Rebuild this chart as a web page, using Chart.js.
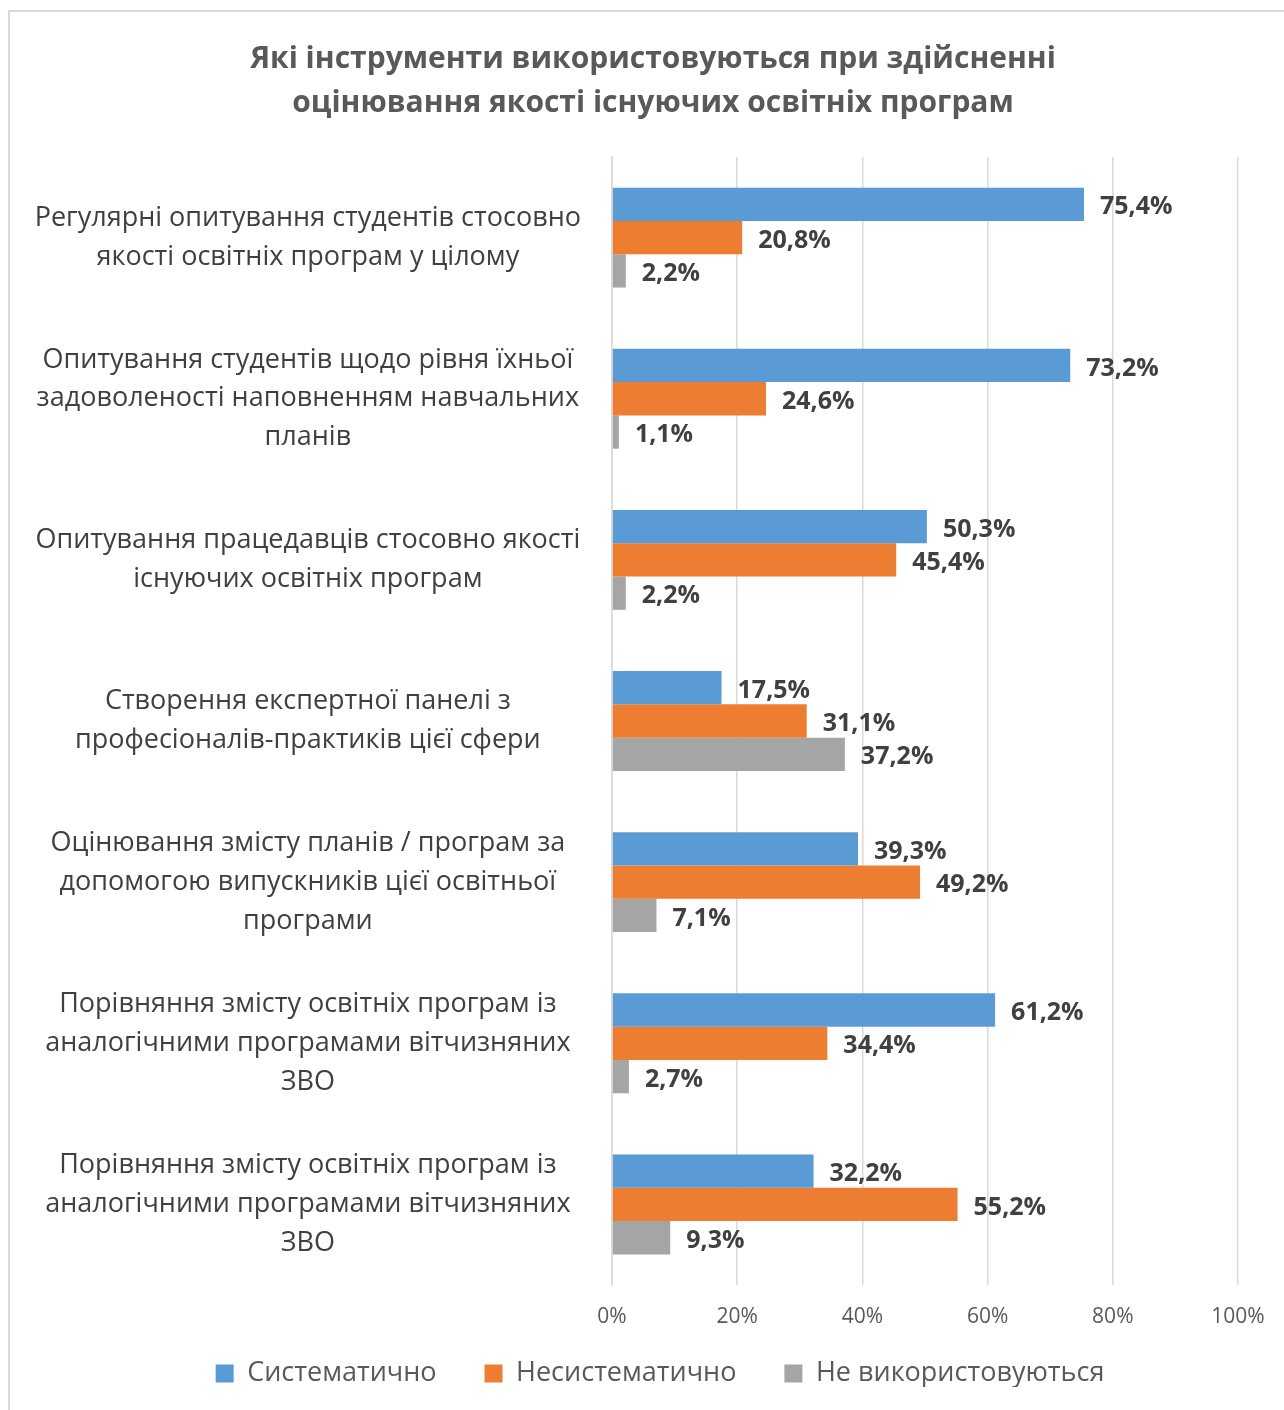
<!DOCTYPE html>
<html lang="uk">
<head>
<meta charset="utf-8">
<title>Інструменти оцінювання якості освітніх програм</title>
<script src="https://cdn.jsdelivr.net/npm/chart.js@4.4.1/dist/chart.umd.min.js"></script>
<style>
  html, body { margin: 0; padding: 0; background: #fff; overflow: hidden; }
  #wrap { position: relative; width: 1284px; height: 1410px; overflow: hidden; }
  #frame { position: absolute; left: 8px; top: 10px; width: 1300px; height: 1420px; border: 2px solid #d9d9d9; pointer-events: none; }
  canvas { position: absolute; left: 0; top: 0; }
</style>
</head>
<body>
<div id="wrap">
  <canvas id="chart" width="1284" height="1410"></canvas>
  <div id="frame"></div>
</div>
<script>
/* Data */
var CATEGORIES = [
  ['Регулярні опитування студентів стосовно', 'якості освітніх програм у цілому'],
  ['Опитування студентів щодо рівня їхньої', 'задоволеності наповненням навчальних', 'планів'],
  ['Опитування працедавців стосовно якості', 'існуючих освітніх програм'],
  ['Створення експертної панелі з', 'професіоналів-практиків цієї сфери'],
  ['Оцінювання змісту планів / програм за', 'допомогою випускників цієї освітньої', 'програми'],
  ['Порівняння змісту освітніх програм із', 'аналогічними програмами вітчизняних', 'ЗВО'],
  ['Порівняння змісту освітніх програм із', 'аналогічними програмами вітчизняних', 'ЗВО']
];
var SERIES_NAMES = ['Систематично', 'Несистематично', 'Не використовуються'];
var SYSTEMATIC = [75.4, 73.2, 50.3, 17.5, 39.3, 61.2, 32.2];
var UNSYSTEMATIC = [20.8, 24.6, 45.4, 31.1, 49.2, 34.4, 55.2];
var NOT_USED = [2.2, 1.1, 2.2, 37.2, 7.1, 2.7, 9.3];
var X_TICKS = [0, 20, 40, 60, 80, 100];
var TITLE = ['Які інструменти використовуються при здійсненні', 'оцінювання якості існуючих освітніх програм'];

var FONT = "'Open Sans', sans-serif";
var COLORS = ['#5B9BD5', '#ED7D31', '#A5A5A5'];
var TXT = '#595959';
var LABEL_TXT = '#404040';

Chart.defaults.font.family = FONT;

/* Draws "75,4%" style labels to the right of each bar */
var valueLabels = {
  id: 'valueLabels',
  afterDatasetsDraw: function(chart) {
    var ctx = chart.ctx;
    ctx.save();
    ctx.font = 'bold 25px ' + FONT;
    ctx.fillStyle = LABEL_TXT;
    ctx.textAlign = 'left';
    ctx.textBaseline = 'middle';
    chart.data.datasets.forEach(function(ds, i) {
      chart.getDatasetMeta(i).data.forEach(function(bar, j) {
        var txt = ds.data[j].toFixed(1).replace('.', ',') + '%';
        ctx.fillText(txt, bar.x + 16, bar.y + 3);
      });
    });
    ctx.restore();
  }
};

/* Title and legend sit centred on the whole frame, not on the padded area;
   the legend also sits a bit higher than its wide item spacing would allow */
var boxNudge = {
  id: 'boxNudge',
  afterLayout: function(chart) {
    var t = chart.titleBlock, l = chart.legend;
    t.left += 34; t.right += 34;
    l.left += 41; l.right += 41;
    l.top -= 23; l.bottom -= 23;
  }
};

var datasets = [SYSTEMATIC, UNSYSTEMATIC, NOT_USED].map(function(vals, i) {
  return { label: SERIES_NAMES[i], data: vals, backgroundColor: COLORS[i], borderWidth: 0,
           categoryPercentage: 0.62, barPercentage: 1 };
});

new Chart(document.getElementById('chart'), {
  type: 'bar',
  data: { labels: CATEGORIES, datasets: datasets },
  plugins: [valueLabels, boxNudge],
  options: {
    indexAxis: 'y', responsive: false, animation: false,
    layout: { padding: { left: 0, right: 46, top: 0, bottom: 0 } },
    plugins: {
      title: { display: true, text: TITLE, color: TXT, font: { size: 30, weight: 'bold', lineHeight: 1.467 },
               padding: { top: 37, bottom: 32 } },
      legend: {
        position: 'bottom', maxHeight: 75,
        labels: { color: TXT, font: { size: 27 }, boxWidth: 18, boxHeight: 18, padding: 48 }
      },
      tooltip: { enabled: false }
    },
    scales: {
      x: {
        min: 0, max: 100,
        afterBuildTicks: function(axis) { axis.ticks = X_TICKS.map(function(v) { return { value: v }; }); },
        grid: { color: '#d9d9d9', lineWidth: 1.5, drawTicks: false },
        border: { display: false },
        ticks: { color: TXT, font: { size: 21 }, padding: 19, callback: function(v) { return v + '%'; } },
        afterFit: function(axis) { axis.height = 50; }
      },
      y: {
        grid: { display: false },
        border: { color: '#d9d9d9', width: 1.5 },
        ticks: { color: LABEL_TXT, font: { size: 27, lineHeight: 1.44 }, padding: 23, crossAlign: 'center', autoSkip: false },
        afterFit: function(axis) { axis.width = 612; }
      }
    }
  }
});
</script>
</body>
</html>
